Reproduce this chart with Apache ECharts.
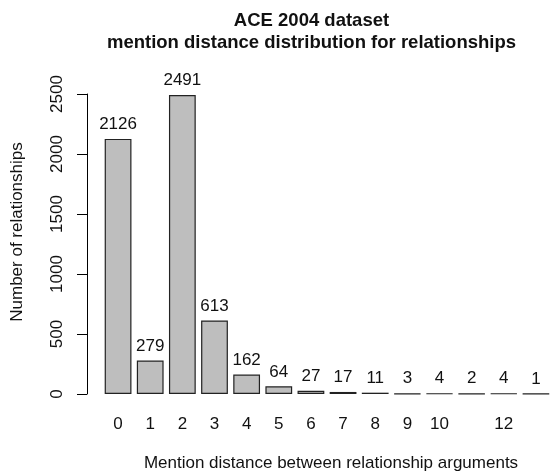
<!DOCTYPE html>
<html>
<head>
<meta charset="utf-8">
<script src="https://cdn.jsdelivr.net/npm/echarts@6/dist/echarts.min.js"></script>
<style>
html,body{margin:0;padding:0;background:#fff;}
#chart{width:552px;height:472px;}
</style>
</head>
<body>
<div id="chart"></div>
<script>
var categories = ['0','1','2','3','4','5','6','7','8','9','10','11','12','13'];
var values = [2126, 279, 2491, 613, 162, 64, 27, 17, 11, 3, 4, 2, 4, 1];
var xTickLabels = ['0','1','2','3','4','5','6','7','8','9','10','','12',''];
var yTicks = [0, 500, 1000, 1500, 2000, 2500];
var titleLines = ['ACE 2004 dataset', 'mention distance distribution for relationships'];
var xTitle = 'Mention distance between relationship arguments';
var yTitle = 'Number of relationships';

var FONT = '"Liberation Sans", Arial, Helvetica, sans-serif';
var TXT = '#111';

var chart = echarts.init(document.getElementById('chart'), null, {renderer: 'canvas'});
chart.setOption({
  backgroundColor: '#fff',
  animation: false,
  textStyle: {fontFamily: FONT},
  grid: {left: 102, top: 94, height: 300, width: 454.3, containLabel: false},
  xAxis: {
    type: 'category',
    data: categories,
    axisLine: {show: false},
    axisTick: {show: false},
    axisLabel: {
      interval: 0, margin: 22, fontSize: 17, color: TXT, fontFamily: FONT,
      formatter: function (v, i) { return xTickLabels[i]; }
    }
  },
  yAxis: {
    type: 'value',
    min: yTicks[0], max: yTicks[yTicks.length - 1], interval: 500,
    offset: 15,
    splitLine: {show: false},
    axisLine: {show: true, lineStyle: {color: '#000', width: 1}},
    axisTick: {show: true, length: 10, lineStyle: {color: '#000', width: 1}},
    axisLabel: {rotate: 90, margin: 21, fontSize: 17, color: TXT, fontFamily: FONT,
      formatter: function (v) { return String(v); }}
  },
  series: [{
    type: 'bar',
    data: values,
    barWidth: '83.3%',
    itemStyle: {color: '#bebebe', borderColor: '#222', borderWidth: 1.2},
    label: {show: true, position: 'top', distance: 6, fontSize: 17, color: TXT, fontFamily: FONT}
  }],
  graphic: [
    {type: 'text', x: 311.5, y: 21, style: {text: titleLines[0], font: 'bold 18.5px ' + FONT, fill: TXT, textAlign: 'center', textVerticalAlign: 'middle'}},
    {type: 'text', x: 311.5, y: 43, style: {text: titleLines[1], font: 'bold 18.5px ' + FONT, fill: TXT, textAlign: 'center', textVerticalAlign: 'middle'}},
    {type: 'text', x: 331, y: 463, style: {text: xTitle, font: '17px ' + FONT, fill: TXT, textAlign: 'center', textVerticalAlign: 'middle'}},
    {type: 'text', x: 17, y: 232, rotation: Math.PI / 2, style: {text: yTitle, font: '17px ' + FONT, fill: TXT, textAlign: 'center', textVerticalAlign: 'middle'}}
  ]
});
</script>
</body>
</html>
